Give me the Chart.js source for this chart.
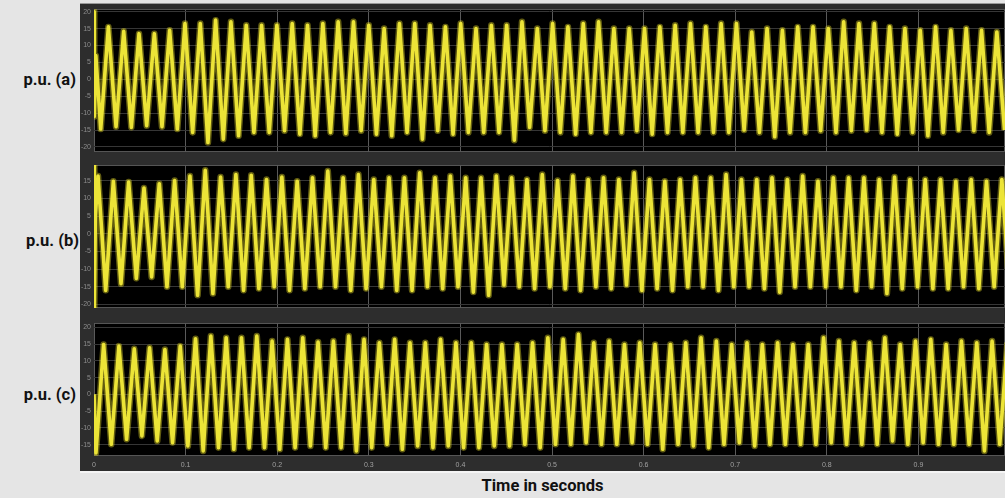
<!DOCTYPE html>
<html lang="en">
<head>
  <meta charset="UTF-8">
  <title>p.u. traces</title>
  <script src="https://cdn.jsdelivr.net/npm/chart.js@4.4.1/dist/chart.umd.min.js"></script>
  <style>
    body { margin: 0; width: 1005px; height: 498px; overflow: hidden; position: relative;
           background: #e5e5e5; font-family: Roboto, "Liberation Sans", Arial, sans-serif; }
    #frame { position: absolute; left: 80px; top: 3px; width: 925px; height: 470px; box-sizing: border-box;
             background: #2d2d2d; border-top: 1px solid #9a9a9a; border-bottom: 2px solid #f4f4f4; }
    canvas { position: absolute; left: 80px; }
    .lab { position: absolute; left: 0; font-weight: bold; font-size: 16.5px; color: #111; text-align: right; line-height: 20px; }
    #xtitle { position: absolute; left: 80px; width: 925px; top: 476px; text-align: center;
              font-weight: bold; font-size: 16.5px; color: #111; line-height: 20px; }
  </style>
</head>
<body>
  <div id="frame"></div>
  <canvas id="pa" width="925" height="143" style="top:9px"></canvas>
  <canvas id="pb" width="925" height="143" style="top:165px"></canvas>
  <canvas id="pc" width="925" height="149" style="top:323px"></canvas>
  <div class="lab" style="top:70px; width:76px">p.u. (a)</div>
  <div class="lab" style="top:231px; width:79px">p.u. (b)</div>
  <div class="lab" style="top:385px; width:76px">p.u. (c)</div>
  <div id="xtitle">Time in seconds</div>
  <script>
    // signal frequency (about 6 cycles per 0.1 s)
    const freq = 59.8;
    const xMax = 0.9945;
    const xTicks = [0, 0.1, 0.2, 0.3, 0.4, 0.5, 0.6, 0.7, 0.8, 0.9];
    const yTicksA = [-20, -15, -10, -5, 0, 5, 10, 15, 20];
    const yTicksB = [-20, -15, -10, -5, 0, 5, 10, 15];
    const yTicksC = [-15, -10, -5, 0, 5, 10, 15, 20];

    // phase (a)
    const startA = [[0, 20], [0.0003, -11], [0.002, 7]];
    const firstPeakA = 0.0157;
    const peaksA = [15.5, 14.2, 13.5, 13.5, 14.5, 16.5, 16.5, 17.5, 17, 16, 16, 16, 16.5, 16, 16.5, 17, 17, 16, 15, 16.5,
      16.5, 16, 15.5, 16.5, 15, 16, 16, 17, 15, 16.5, 15.5, 16.5, 17, 15, 15, 15, 15.5, 16, 16.5, 15.5,
      16.5, 16.5, 14, 15, 14.5, 15.5, 15.5, 15, 17, 16.5, 16.5, 15.5, 15, 14.5, 15.5, 14.5, 15, 14.5, 14];
    // trough k comes half a cycle before peak k
    const troughsA = [-14.7, -14, -14.2, -13.7, -14, -14.7, -15.7, -18.7, -17.7, -16.7, -15.7, -15.7, -15.2, -16.2, -16.7,
      -15.7, -16, -15.2, -16.2, -16.7, -15.7, -17.7, -15.2, -16.2, -15.7, -15.7, -15.7, -18, -14.2, -15.2,
      -15.7, -16.2, -15.7, -15.7, -15.7, -15.2, -16.2, -15.7, -15.7, -15.7, -15.7, -15.7, -15, -15.7, -17,
      -15.7, -15.7, -15.2, -15.7, -15.2, -15, -15.7, -16.2, -15.7, -16.7, -15.7, -15, -15.2, -15.7, -15];

    // phase (b)
    const startB = [[0, 20], [0.0003, -21], [0.0015, 5]];
    const firstPeakB = 0.0044;
    const peaksB = [16.4, 14.9, 14.7, 13, 14.2, 15.1, 16.4, 18, 16.1, 16.8, 16.6, 15.4, 16.1, 14.9, 15.9, 17.8, 15.9, 16.8, 15.4, 15.9,
      15.9, 17.3, 15.9, 16.4, 15.9, 15.9, 16.4, 15.9, 15.4, 16.8, 15.1, 16.4, 15.4, 15.9, 15.4, 17.3, 15.4, 14.9, 15.4, 15.9,
      15.9, 16.8, 15.4, 15.4, 15.9, 15.4, 16.4, 14.9, 15.9, 15.9, 15.9, 15.4, 16.1, 15.4, 15.4, 15.4, 14.9, 15.4, 14.9, 15.4];
    // trough k comes half a cycle after peak k
    const troughsB = [-16, -14.1, -12.6, -12.2, -15, -15, -17.4, -16.9, -15, -16, -15.5, -15, -16, -15.5, -15,
      -15, -16, -15.5, -15, -16, -16, -15, -15.5, -15, -16.5, -17.4, -14.5, -15, -15.5, -15,
      -15.5, -16, -15, -15.5, -14.5, -16, -15.5, -16, -15, -15, -16, -15, -15, -15.5, -16.5,
      -15, -15, -15, -15, -16, -15, -16.9, -15.5, -15, -15.5, -15.5, -15, -15.5, -15, -15.5];

    // phase (c)
    const startC = [[0, 0]];
    const firstPeakC = 0.0105;
    const peaksC = [14.9, 14.4, 13.6, 13.9, 13.4, 14.4, 16.6, 17.4, 16.9, 16.9, 17.4, 15.9, 16.4, 16.9, 15.6, 15.9, 17.4, 16.4, 15.4, 16.4,
      15.4, 15.4, 16.4, 15.4, 15.4, 14.9, 14.9, 14.9, 15.4, 16.9, 16.4, 17.9, 15.4, 15.9, 14.9, 15.4, 14.9, 14.9, 15.4, 16.9,
      15.9, 14.9, 15.4, 14.9, 15.4, 14.9, 14.9, 16.9, 15.9, 15.4, 15.4, 16.9, 14.9, 15.9, 16.4, 14.9, 15.9, 15.4, 15.9, 15.5];
    // trough k comes half a cycle before peak k
    const troughsC = [-17.5, -14.9, -13.4, -12.4, -13.9, -14.4, -15.4, -16.9, -15.9, -16.4, -15.9, -15.9, -16.4, -15.9, -15.4,
      -15.9, -15.9, -16.9, -15.9, -14.9, -16.4, -15.4, -15.9, -15.4, -15.9, -15.9, -15.4, -15.4, -14.9, -15.9,
      -14.9, -14.9, -14.4, -14.9, -14.9, -14.4, -14.9, -16.4, -14.9, -15.4, -15.9, -14.9, -14.4, -15.4, -14.9,
      -14.9, -14.9, -14.9, -14.4, -14.9, -14.9, -14.9, -13.9, -14.9, -14.4, -14.9, -14.9, -14.9, -16.9, -14.9];

    // merge start, peaks and troughs into one time ordered trace
    function trace(start, firstPeak, peaks, troughs, troughShift) {
      var pts = start.map(p => ({ x: p[0], y: p[1] }));
      var ext = [];
      peaks.forEach((v, k) => ext.push({ x: firstPeak + k / freq, y: v }));
      troughs.forEach((v, k) => ext.push({ x: firstPeak + (k + troughShift) / freq, y: v }));
      ext.sort((a, b) => a.x - b.x);
      return pts.concat(ext);
    }

    const blackArea = {
      id: 'blackArea',
      beforeDraw(chart) {
        var a = chart.chartArea, ctx = chart.ctx;
        ctx.save();
        ctx.fillStyle = '#000';
        ctx.fillRect(a.left, a.top, a.right - a.left, a.bottom - a.top);
        ctx.strokeStyle = '#555';
        ctx.lineWidth = 1;
        ctx.strokeRect(a.left + 0.5, a.top + 0.5, a.right - a.left - 1, a.bottom - a.top - 1);
        ctx.restore();
      }
    };

    function panel(id, pts, yMin, yMax, yTicks, showX) {
      new Chart(document.getElementById(id), {
        type: 'line',
        data: {
          datasets: [
            { data: pts, borderColor: 'rgba(215,205,35,0.45)', borderWidth: 6.5, pointRadius: 0, tension: 0, borderJoinStyle: 'round' },
            { data: pts, borderColor: '#fdf748', borderWidth: 3.6, pointRadius: 0, tension: 0, borderJoinStyle: 'round' }
          ]
        },
        options: {
          responsive: false,
          animation: false,
          devicePixelRatio: 1,
          layout: { padding: 0 },
          plugins: { legend: { display: false }, tooltip: { enabled: false } },
          scales: {
            x: {
              type: 'linear', min: 0, max: xMax,
              afterBuildTicks: s => { s.ticks = xTicks.map(v => ({ value: v })); },
              grid: { color: '#5a5a5a', drawTicks: false },
              border: { display: false },
              ticks: { display: showX, color: '#a0a0a0', font: { size: 7 }, padding: 5, maxRotation: 0, autoSkip: false },
              afterFit: s => { s.height = showX ? 16 : 0; s.paddingLeft = 0; s.paddingRight = 0; }
            },
            y: {
              min: yMin, max: yMax,
              afterBuildTicks: s => { s.ticks = yTicks.map(v => ({ value: v })); },
              grid: { color: '#363636', drawTicks: false },
              border: { display: false },
              ticks: { color: '#8c8c8c', font: { size: 7 }, padding: 3 },
              afterFit: s => { s.width = 14; s.paddingTop = 0; s.paddingBottom = 0; }
            }
          }
        },
        plugins: [blackArea]
      });
    }

    panel('pa', trace(startA, firstPeakA, peaksA, troughsA, -0.5), -21.5, 20.8, yTicksA, false);
    panel('pb', trace(startB, firstPeakB, peaksB, troughsB, 0.5), -21, 19.5, yTicksB, false);
    panel('pc', trace(startC, firstPeakC, peaksC, troughsC, -0.5), -18.4, 21.3, yTicksC, true);
  </script>
</body>
</html>
